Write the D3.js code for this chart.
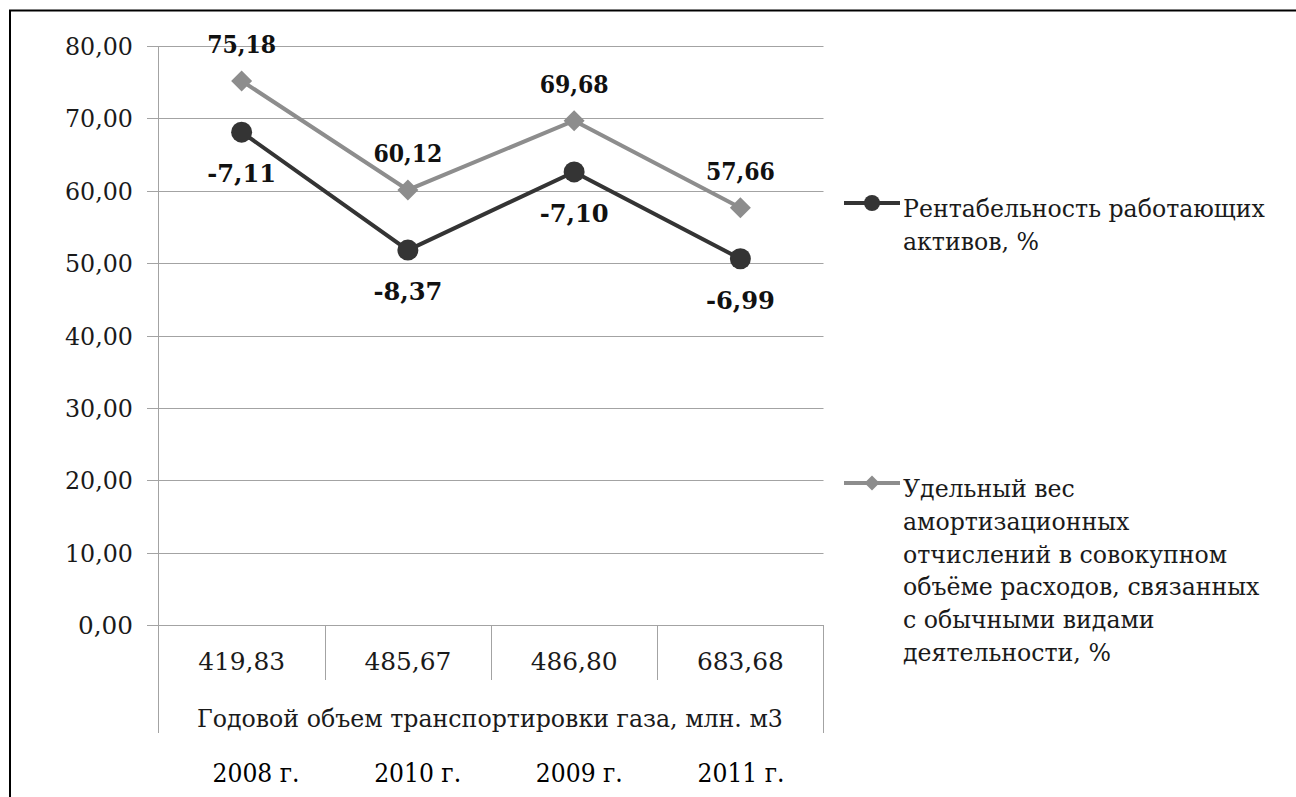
<!DOCTYPE html>
<html><head><meta charset="utf-8">
<script src="https://cdn.jsdelivr.net/npm/d3@7"></script>
</head><body style="margin:0">
<svg id="c" width="1296" height="797"></svg>
<script>
const categories = ["2008 г.", "2010 г.", "2009 г.", "2011 г."];
const volumes = ["419,83", "485,67", "486,80", "683,68"];
const volumeTitle = "Годовой объем транспортировки газа, млн. м3";
const darkValues = [68.1, 51.8, 62.6, 50.6];
const darkLabels = ["-7,11", "-8,37", "-7,10", "-6,99"];
const greyValues = [75.18, 60.12, 69.68, 57.66];
const greyLabels = ["75,18", "60,12", "69,68", "57,66"];
const yTicks = [0, 10, 20, 30, 40, 50, 60, 70, 80];
const seriesNames = [
  ["Рентабельность работающих", "активов, %"],
  ["Удельный вес", "амортизационных", "отчислений в совокупном", "объёме расходов, связанных", "с обычными видами", "деятельности, %"]
];

const svg = d3.select("#c");
const SERIF = "'DejaVu Serif Condensed','DejaVu Serif',serif";
const YEARFONT = "'DejaVu Serif Condensed','DejaVu Serif',serif";
const L = 158.5, R = 823.5, T = 46, B = 625;
const x = d3.scaleBand().domain(categories).range([L, R]);
const y = d3.scaleLinear().domain([0, 80]).range([B, T]);
const cx = c => x(c) + x.bandwidth() / 2;
const yearX = d3.scalePoint().domain(categories).range([256, 741]);

function txt(parent, px, py, s, o) {
  const t = parent.append("text").attr("x", 0).attr("y", 0)
    .attr("font-family", o.family || SERIF).attr("font-size", o.size || 24)
    .attr("fill", o.fill || "#1a1a1a").text(s);
  if (o.bold) t.attr("font-weight", "bold");
  const w = t.node().getComputedTextLength();
  const sx = o.width ? o.width / w : (o.sx || 1);
  const anchor = o.anchor || "start";
  const dx = anchor === "middle" ? -w * sx / 2 : anchor === "end" ? -w * sx : 0;
  t.attr("transform", `translate(${px + dx},${py}) scale(${sx},1)`);
  return t;
}

svg.append("path").attr("d", "M10,797 V10.5 H1296").attr("fill", "none").attr("stroke", "#000").attr("stroke-width", 2);

const grid = "#a3a3a3";
const g = svg.append("g");
yTicks.forEach(t => {
  const yy = Math.round(y(t)) + 0.5;
  g.append("line").attr("x1", 147).attr("x2", R).attr("y1", yy).attr("y2", yy).attr("stroke", grid);
});
g.append("line").attr("x1", L).attr("x2", L).attr("y1", T).attr("y2", 733).attr("stroke", grid);
g.append("line").attr("x1", R).attr("x2", R).attr("y1", B).attr("y2", 733).attr("stroke", grid);
categories.slice(1).forEach(c => {
  g.append("line").attr("x1", Math.round(x(c)) + 0.5).attr("x2", Math.round(x(c)) + 0.5).attr("y1", B).attr("y2", 680).attr("stroke", grid);
});

const tickFmt = t => d3.format(".2f")(t).replace(".", ",");
yTicks.forEach(t => txt(g, 133, y(t) + 9, tickFmt(t), {size: 24, anchor: "end", width: t < 10 ? 55 : 68}));

categories.forEach((c, i) => txt(g, cx(c), 670, volumes[i], {size: 24, anchor: "middle", width: 87}));
txt(g, (L + R) / 2 - 1, 727, volumeTitle, {size: 24, anchor: "middle", width: 586});
categories.forEach(c => txt(g, yearX(c), 782, c, {size: 26, anchor: "middle", family: YEARFONT, width: 87, fill: "#000"}));

const line = vals => d3.line().x((d, i) => cx(categories[i])).y(d => y(d))(vals);
const darkC = "#343434", greyC = "#8d8d8d";
svg.append("path").attr("d", line(greyValues)).attr("fill", "none").attr("stroke", greyC).attr("stroke-width", 4);
svg.append("path").attr("d", line(darkValues)).attr("fill", "none").attr("stroke", darkC).attr("stroke-width", 4);
const diamond = (px, py, s) => `M${px},${py - s}L${px + s},${py}L${px},${py + s}L${px - s},${py}Z`;
greyValues.forEach((v, i) => {
  svg.append("path").attr("d", diamond(cx(categories[i]), y(v), 10.5)).attr("fill", greyC);
  txt(svg, cx(categories[i]), y(v) - 28, greyLabels[i], {size: 24, bold: true, anchor: "middle", width: 69, fill: "#111"});
});
darkValues.forEach((v, i) => {
  svg.append("circle").attr("cx", cx(categories[i])).attr("cy", y(v)).attr("r", 10.5).attr("fill", darkC);
  txt(svg, cx(categories[i]), y(v) + 50, darkLabels[i], {size: 24, bold: true, anchor: "middle", width: 69, fill: "#111"});
});

const probe2 = txt(svg, 0, -100, seriesNames[0][0], {size: 24});
const legSx = 362 / probe2.node().getComputedTextLength();
probe2.remove();
const leg = [{y: 203, c: darkC, m: "circle", lines: seriesNames[0]}, {y: 483, c: greyC, m: "diamond", lines: seriesNames[1]}];
leg.forEach(l => {
  svg.append("line").attr("x1", 844).attr("x2", 900).attr("y1", l.y).attr("y2", l.y).attr("stroke", l.c).attr("stroke-width", 4);
  if (l.m === "circle") svg.append("circle").attr("cx", 872).attr("cy", l.y).attr("r", 8).attr("fill", l.c);
  else svg.append("path").attr("d", diamond(872, l.y, 7.5)).attr("fill", l.c);
  l.lines.forEach((t, j) => txt(svg, 903, l.y + 14 + j * 32.8, t, {size: 24, sx: legSx}));
});
</script>
</body></html>
